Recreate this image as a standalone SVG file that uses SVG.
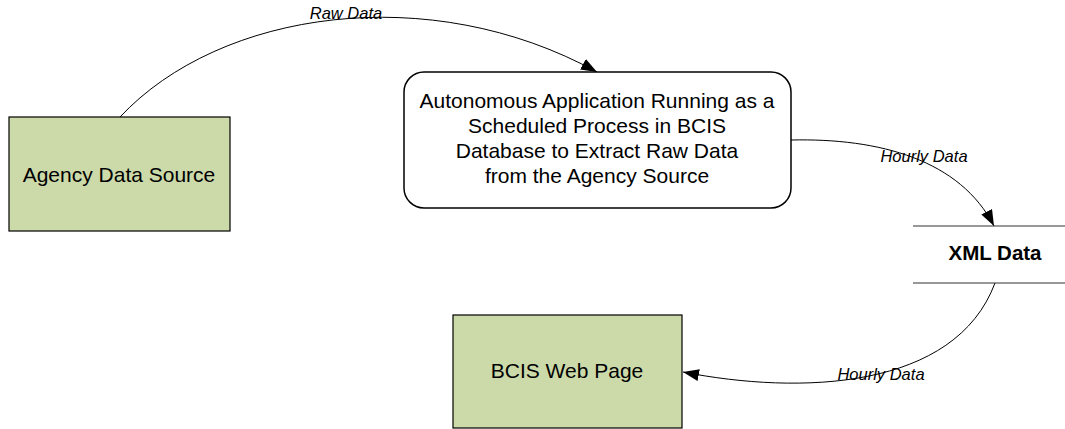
<svg xmlns="http://www.w3.org/2000/svg" width="1065" height="429" viewBox="0 0 1065 429">
<style>
.box{fill:#CCDAAA;stroke:#000;stroke-width:1.2}
.proc{fill:#fff;stroke:#000;stroke-width:1.5}
.store{stroke:#333;stroke-width:1.2}
.conn{fill:none;stroke:#000;stroke-width:1}
.t{font-family:"Liberation Sans",Arial,sans-serif;font-size:21px;fill:#000;text-anchor:middle}
.b{font-weight:bold;font-size:20.5px}
.lbl{font-family:"Liberation Sans",Arial,sans-serif;font-size:16.5px;font-style:italic;fill:#000;text-anchor:middle}
</style>
<defs>
<marker id="ah" markerUnits="userSpaceOnUse" markerWidth="16" markerHeight="12" refX="16" refY="6" orient="auto">
<path d="M0,0 L16,6 L0,12 Z" fill="#000"/>
</marker>
</defs>
<rect width="1065" height="429" fill="#fff"/>
<g id="connectors">
<path class="conn" d="M120,117 C220,10 430,-20 597,72" marker-end="url(#ah)"/>
<path class="conn" d="M791,140 C880,138 960,160 994,226" marker-end="url(#ah)"/>
<path class="conn" d="M995,283 C955,390 800,395 683,372" marker-end="url(#ah)"/>
<text class="lbl" x="346" y="19">Raw Data</text>
<text class="lbl" x="924" y="162">Hourly Data</text>
<text class="lbl" x="881" y="380">Hourly Data</text>
</g>
<g id="agency">
<rect class="box" x="9" y="117" width="221" height="114"/>
<text class="t" x="119" y="182">Agency Data Source</text>
</g>
<g id="process">
<rect class="proc" x="404" y="72" width="387" height="136" rx="20" ry="20"/>
<text class="t" x="597" y="108">Autonomous Application Running as a</text>
<text class="t" x="597" y="133">Scheduled Process in BCIS</text>
<text class="t" x="597" y="158">Database to Extract Raw Data</text>
<text class="t" x="597" y="183">from the Agency Source</text>
</g>
<g id="xmldata">
<line class="store" x1="913" y1="226" x2="1065" y2="226"/>
<line class="store" x1="913" y1="283" x2="1065" y2="283"/>
<text class="t b" x="995" y="260">XML Data</text>
</g>
<g id="webpage">
<rect class="box" x="453" y="315" width="229" height="113"/>
<text class="t" x="567" y="378">BCIS Web Page</text>
</g>
</svg>
